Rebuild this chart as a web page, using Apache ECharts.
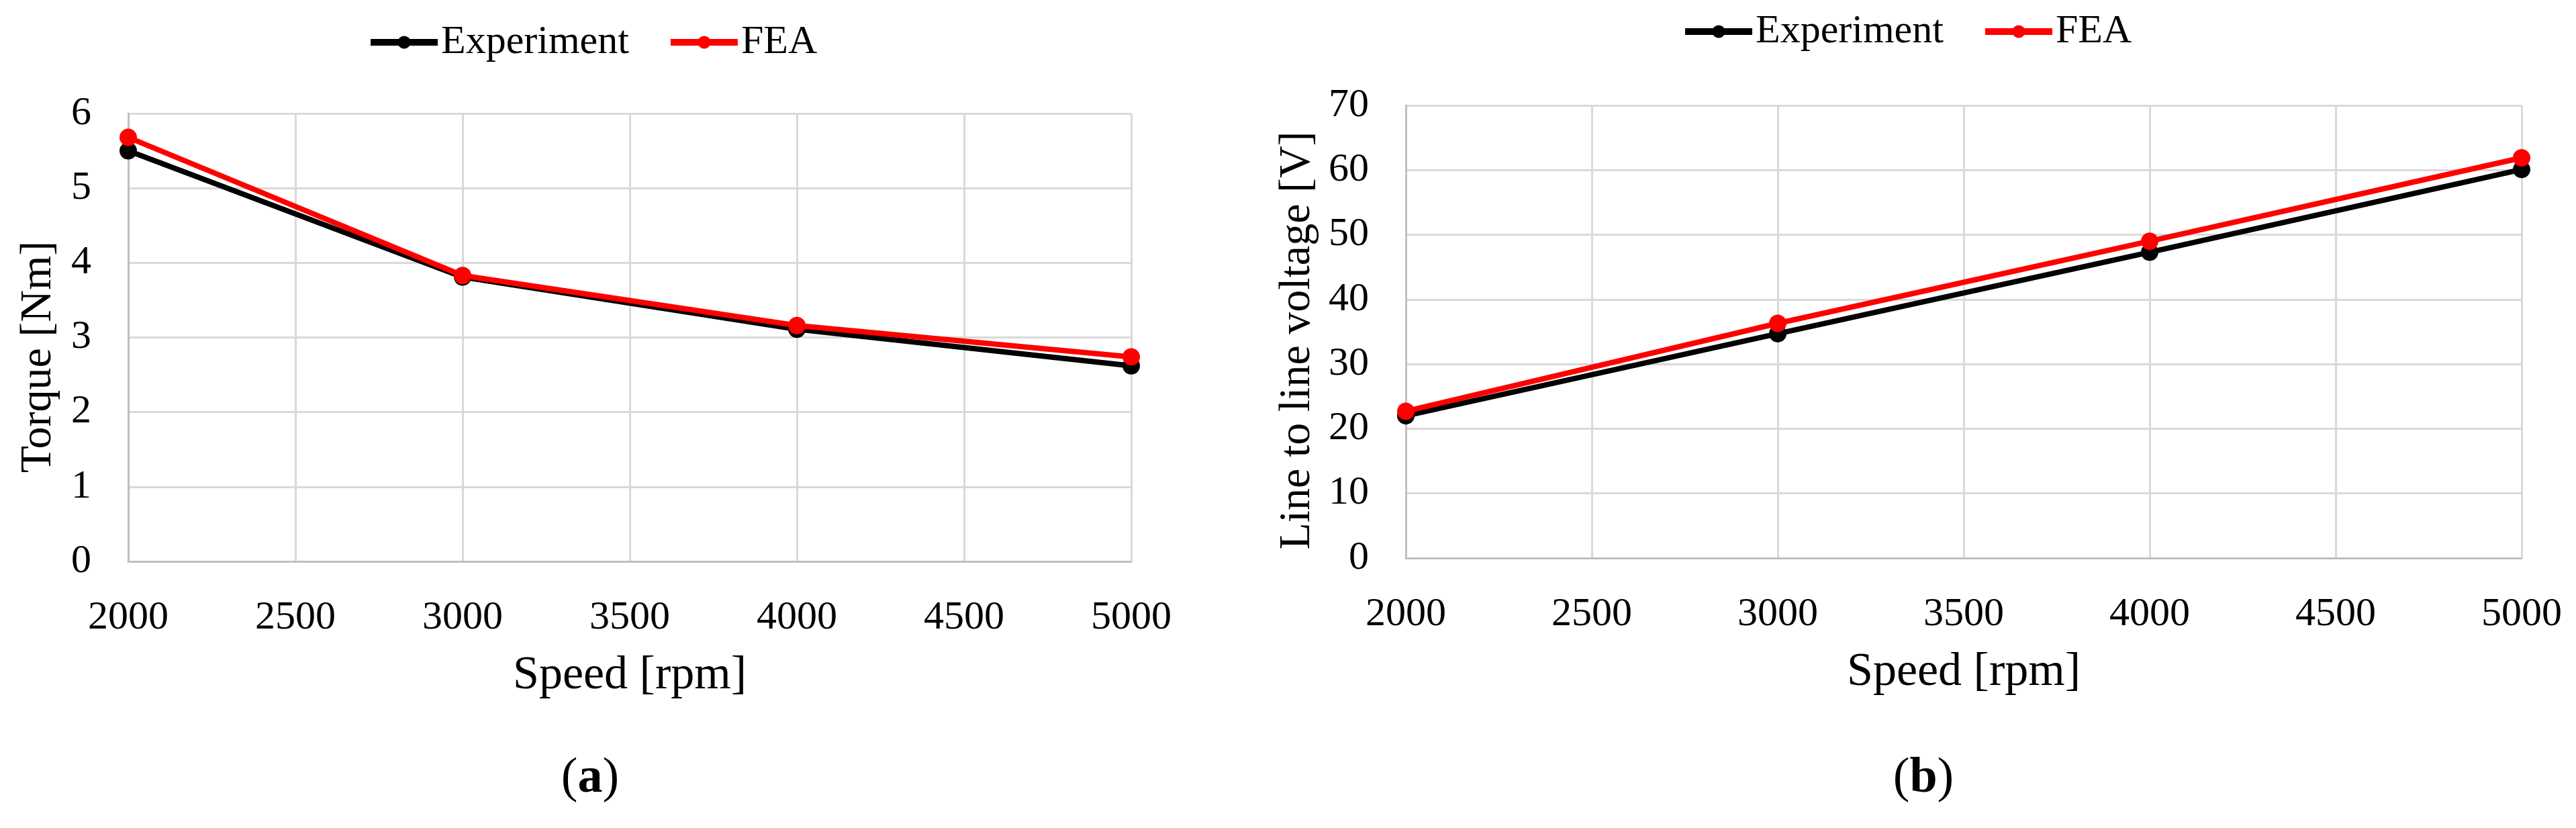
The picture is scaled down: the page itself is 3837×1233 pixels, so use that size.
<!DOCTYPE html>
<html>
<head>
<meta charset="utf-8">
<script src="https://cdn.jsdelivr.net/npm/echarts@6/dist/echarts.min.js"></script>
<style>
html,body{margin:0;padding:0;background:#fff;}
#main{width:3837px;height:1233px;}
</style>
</head>
<body>
<div id="main"></div>
<script>
// ---- data ----
const speed = [2000, 3000, 4000, 5000];
const torqueExperiment = [5.50, 3.81, 3.11, 2.62];
const torqueFEA = [5.68, 3.83, 3.16, 2.74];
const voltageExperiment = [22.0, 34.7, 47.3, 60.1];
const voltageFEA = [22.7, 36.3, 49.0, 61.9];
const seriesNames = ['Experiment', 'FEA'];
const xTitle = 'Speed [rpm]';
const yTitleLeft = 'Torque [Nm]';
const yTitleRight = 'Line to line voltage [V]';

const FONT = 'Liberation Serif';
const pairs = (xs, ys) => xs.map((x, i) => [x, ys[i]]);

const chart = echarts.init(document.getElementById('main'), null, {renderer: 'canvas'});

function xAxisCfg(gridIndex) {
  return {
    type: 'value', gridIndex, min: 2000, max: 5000, interval: 500,
    name: xTitle, nameLocation: 'middle', nameGap: 136,
    nameTextStyle: {fontFamily: FONT, fontSize: 70, color: '#000'},
    axisLine: {show: true, lineStyle: {color: '#bfbfbf', width: 3}},
    axisTick: {show: false},
    axisLabel: {fontFamily: FONT, fontSize: 60, color: '#000', margin: 54,
      formatter: v => String(v)},
    splitLine: {show: true, lineStyle: {color: '#d9d9d9', width: 3}}
  };
}
function yAxisCfg(gridIndex, max, interval, name, gap, shift) {
  return {
    type: 'value', gridIndex, min: 0, max, interval,
    name, nameLocation: 'middle', nameGap: gap,
    nameTextStyle: {fontFamily: FONT, fontSize: 66, color: '#000', padding: [0, shift, 0, 0]},
    axisLine: {show: true, lineStyle: {color: '#bfbfbf', width: 3}},
    axisTick: {show: false},
    axisLabel: {fontFamily: FONT, fontSize: 60, color: '#000', margin: 55},
    splitLine: {show: true, lineStyle: {color: '#d9d9d9', width: 3}}
  };
}
function lineSeries(name, data, color, idx) {
  return {
    type: 'line', name, data, xAxisIndex: idx, yAxisIndex: idx,
    color, symbol: 'circle', symbolSize: 26,
    lineStyle: {color, width: 8}, itemStyle: {color},
    z: name === 'FEA' ? 3 : 2, animation: false
  };
}
function legendCfg(left, top) {
  return {data: seriesNames, left, top, itemWidth: 100, itemHeight: 24, itemGap: 57,
    lineStyle: {width: 10},
    textStyle: {fontFamily: FONT, fontSize: 60, color: '#000'}};
}

chart.setOption({
  backgroundColor: '#fff',
  animation: false,
  title: [
    {text: '({b|a})', left: 874, top: 1118, textAlign: 'center',
     textStyle: {fontFamily: FONT, fontSize: 74, fontWeight: 'normal', color: '#000',
       rich: {b: {fontFamily: FONT, fontSize: 74, fontWeight: 'bold', color: '#000'}}}},
    {text: '({b|b})', left: 2860, top: 1118, textAlign: 'center',
     textStyle: {fontFamily: FONT, fontSize: 74, fontWeight: 'normal', color: '#000',
       rich: {b: {fontFamily: FONT, fontSize: 74, fontWeight: 'bold', color: '#000'}}}}
  ],
  legend: [legendCfg(542, 28), legendCfg(2500, 12)],
  grid: [
    {left: 191, top: 169, width: 1494, height: 667, containLabel: false},
    {left: 2094, top: 157, width: 1662, height: 674, containLabel: false}
  ],
  xAxis: [xAxisCfg(0), xAxisCfg(1)],
  yAxis: [
    yAxisCfg(0, 6, 1, yTitleLeft, 100, 58),
    yAxisCfg(1, 70, 10, yTitleRight, 128, 26)
  ],
  series: [
    lineSeries(seriesNames[0], pairs(speed, torqueExperiment), '#000000', 0),
    lineSeries(seriesNames[1], pairs(speed, torqueFEA), '#ff0000', 0),
    lineSeries(seriesNames[0], pairs(speed, voltageExperiment), '#000000', 1),
    lineSeries(seriesNames[1], pairs(speed, voltageFEA), '#ff0000', 1)
  ]
});
</script>
</body>
</html>
